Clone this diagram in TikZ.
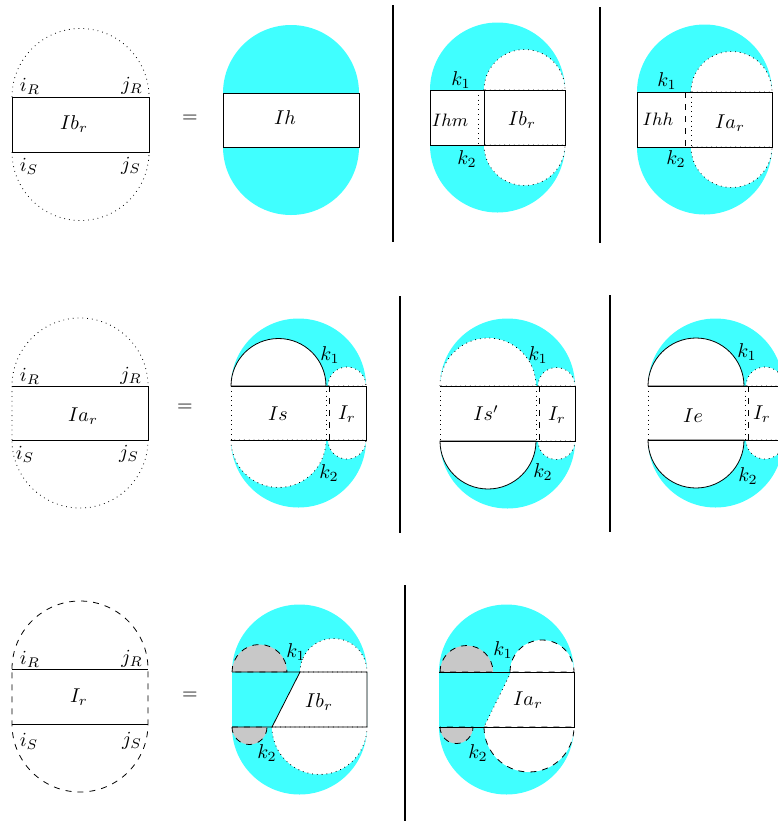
\documentclass[tikz,border=0pt]{standalone}
\usepackage{amsmath,amssymb}
\usepackage{tikz}
\definecolor{Aqua}{RGB}{64,255,255}
\definecolor{HoleGray}{RGB}{200,200,200}
\tikzset{
  pad/.style={fill=Aqua},
  hole/.style={fill=white,draw=black,dotted},
  openhole/.style={fill=white,draw=black},
  dhole/.style={fill=white,draw=black,dashed},
  shade/.style={fill=HoleGray,draw=black,dashed},
  sep/.style={draw=black,line width=0.8pt},
  lbl/.style={inner sep=0pt},
  smlbl/.style={inner sep=0pt,font=\small},
}

\begin{document}
\begin{tikzpicture}[x=0.5pt,y=-0.5pt]
\useasboundingbox (0,0) rectangle (778,821);
% row 1
\draw[dotted] (12,97) arc (180:360:68.5) (12,152) arc (180:0:68.5);
\draw (12,97) rectangle (149,152);
\node[lbl] (iRa) at (30,86) {$i_R$};
\node[lbl] (jRa) at (132,86) {$j_R$};
\node[lbl] (iSa) at (29,166) {$i_S$};
\node[lbl] (jSa) at (131,166) {$j_S$};
\node[lbl] (Ibra) at (74,124) {$Ib_r$};
\node[lbl] (eqa) at (190,119) {$=$};

\path[pad] (223,93) arc (180:360:68) -- (359,147) arc (0:180:68) -- cycle;
\draw[fill=white] (223,93) rectangle (359,147);
\node[lbl] (Ih) at (285,118) {$Ih$};

\draw[sep] (393,5) -- (393,242);

\path[pad] (430,90) arc (180:360:67.5) -- (565,145) arc (0:180:67.5) -- cycle;
\fill[white] (430,90) rectangle (565,145);
\draw[hole] (484,90) arc (180:360:40.5) -- cycle;
\draw[hole] (484,145) arc (180:0:40.5) -- cycle;
\draw (430,90) rectangle (565,145) (484,90) -- (484,145);
\draw[dotted] (478,90) -- (478,145);
\node[lbl] (k1c) at (461,80) {$k_1$};
\node[lbl] (k2c) at (467,159) {$k_2$};
\node[smlbl] (Ihm) at (450,120) {$Ihm$};
\node[lbl] (Ibrc) at (522,120) {$Ib_r$};

\draw[sep] (600,7) -- (600,243);

\path[pad] (637,92) arc (180:360:67.5) -- (772,147) arc (0:180:67.5) -- cycle;
\fill[white] (637,92) rectangle (772,147);
\draw[hole] (691,92) arc (180:360:40.5) -- cycle;
\draw[hole] (691,147) arc (180:0:40.5) -- cycle;
\draw (637,92) rectangle (772,147);
\draw[dashed] (685,92) -- (685,147);
\draw[dotted] (691,92) -- (691,147);
\node[lbl] (k1d) at (667,81) {$k_1$};
\node[lbl] (k2d) at (676,159) {$k_2$};
\node[smlbl] (Ihh) at (658,119) {$Ihh$};
\node[lbl] (Iard) at (730,123) {$Ia_r$};

% row 2
\draw[dotted] (12,440) -- (12,386) arc (180:360:68) (148,440) arc (0:180:68);
\draw (12,386) -- (148,386) -- (148,440) -- (12,440);
\node[lbl] (iRe) at (30,376) {$i_R$};
\node[lbl] (jRe) at (131,376) {$j_R$};
\node[lbl] (iSe) at (25,454) {$i_S$};
\node[lbl] (jSe) at (129,454) {$j_S$};
\node[lbl] (Iare) at (83,416) {$Ia_r$};
\node[lbl] (eqe) at (185,408) {$=$};

\path[pad] (231,386) arc (180:360:67.5) -- (366,440) arc (0:180:67.5) -- cycle;
\fill[white] (231,386) rectangle (366,440);
\draw[openhole] (231,386) arc (180:360:47.5) -- cycle;
\draw[hole] (328,386) arc (180:360:19) -- cycle;
\draw[hole] (231,440) arc (180:0:47.5) -- cycle;
\draw[hole] (328,440) arc (180:0:19) -- cycle;
\draw (231,386) -- (366,386) -- (366,440) -- (231,440);
\draw[dotted] (231,386) -- (231,440) (326,386) -- (326,440);
\draw[dashed] (329,386) -- (329,440);
\node[lbl] (Is) at (278,414) {$Is$};
\node[lbl] (Irf) at (347,414) {$I_r$};
\node[lbl] (k1f) at (330,355) {$k_1$};
\node[lbl] (k2f) at (329,473) {$k_2$};

\draw[sep] (400,296) -- (400,533);

\path[pad] (440,386) arc (180:360:67.5) -- (575,441) arc (0:180:67.5) -- cycle;
\fill[white] (440,386) rectangle (575,441);
\draw[hole] (440,386) arc (180:360:48) -- cycle;
\draw[hole] (538,386) arc (180:360:18.5) -- cycle;
\draw[openhole] (440,441) arc (180:0:48) -- cycle;
\draw[hole] (538,441) arc (180:0:18.5) -- cycle;
\draw (440,386) -- (575,386) -- (575,441) -- (440,441);
\draw[dotted] (440,386) -- (440,441) (536,386) -- (536,441);
\draw[dashed] (539,386) -- (539,441);
\node[lbl] (Isp) at (486,413) {$Is'$};
\node[lbl] (Irg) at (557,415) {$I_r$};
\node[lbl] (k1g) at (538,355) {$k_1$};
\node[lbl] (k2g) at (543,472) {$k_2$};

\draw[sep] (610,295) -- (610,532);

\path[pad] (648,386) arc (180:360:67.5) -- (783,440) arc (0:180:67.5) -- cycle;
\fill[white] (648,386) rectangle (783,440);
\draw[openhole] (648,386) arc (180:360:48) -- cycle;
\draw[hole] (746,386) arc (180:360:19) -- cycle;
\draw[openhole] (648,440) arc (180:0:48) -- cycle;
\draw[hole] (746,440) arc (180:0:19) -- cycle;
\draw (648,386) -- (783,386) -- (783,440) -- (648,440);
\draw[dotted] (648,386) -- (648,440) (745,386) -- (745,440);
\draw[dashed] (748,386) -- (748,440);
\node[lbl] (Ie) at (693,416) {$Ie$};
\node[lbl] (Irh) at (762,414) {$I_r$};
\node[lbl] (k1h) at (747,352) {$k_1$};
\node[lbl] (k2h) at (748,476) {$k_2$};

% row 3
\draw[dashed] (12,669) arc (180:360:68) -- (148,724) arc (0:180:68) -- cycle;
\draw (12,669) -- (148,669) (12,724) -- (148,724);
\node[lbl] (iRi) at (30,659) {$i_R$};
\node[lbl] (jRi) at (132,659) {$j_R$};
\node[lbl] (iSi) at (29,741) {$i_S$};
\node[lbl] (jSi) at (132,741) {$j_S$};
\node[lbl] (Iri) at (79,697) {$I_r$};
\node[lbl] (eqi) at (190,696) {$=$};

\path[pad] (232,672) arc (180:360:67.5) -- (367,727) arc (0:180:67.5) -- cycle;
\fill[white] (300,672) -- (367,672) -- (367,727) -- (272,727) -- cycle;
\draw[shade] (232,672) arc (180:360:27.5) -- cycle;
\draw[hole] (300,672) arc (180:360:33.5) -- cycle;
\draw[shade] (232,727) arc (180:0:17.5) -- cycle;
\draw[hole] (272,727) arc (180:0:47.5) -- cycle;
\draw (232,672) -- (367,672) -- (367,727) -- (232,727) (300,672) -- (272,727);
\node[lbl] (Ibrj) at (319,702) {$Ib_r$};
\node[lbl] (k1j) at (296,652) {$k_1$};
\node[lbl] (k2j) at (267,753) {$k_2$};

\draw[sep] (405,585) -- (405,821);

\path[pad] (439,672) arc (180:360:67.5) -- (574,727) arc (0:180:67.5) -- cycle;
\fill[white] (511,672) -- (574,672) -- (574,727) -- (484,727) -- cycle;
\draw[shade] (440,672) arc (180:360:26.5) -- cycle;
\draw[dhole] (510,672) arc (180:360:32) -- cycle;
\draw[shade] (440,727) arc (180:0:16.5) -- cycle;
\draw[dhole] (484,727) arc (180:0:45) -- cycle;
\draw (439,672) -- (574,672) -- (574,727) -- (439,727);
\draw[dotted] (511,672) -- (484,727);
\node[lbl] (Iark) at (528,700) {$Ia_r$};
\node[lbl] (k1k) at (503,650) {$k_1$};
\node[lbl] (k2k) at (478,753) {$k_2$};
\end{tikzpicture}
\end{document}
